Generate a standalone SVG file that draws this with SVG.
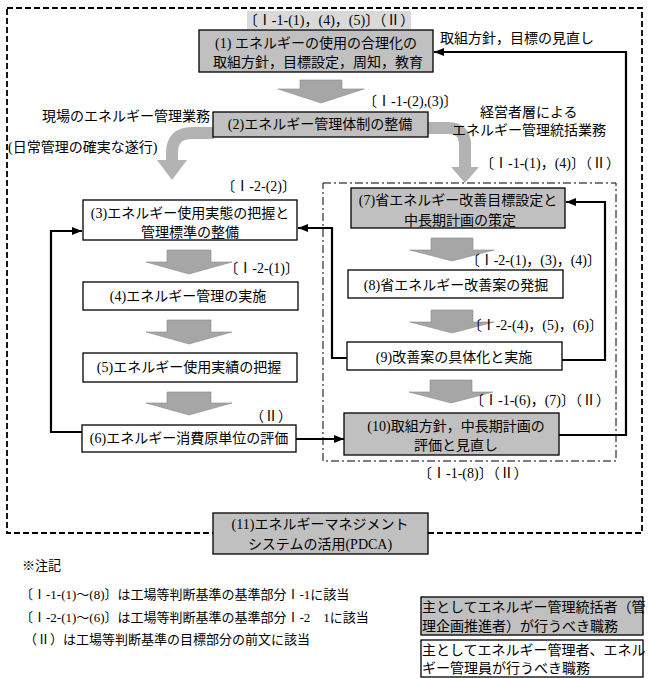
<svg xmlns="http://www.w3.org/2000/svg" width="648" height="678" viewBox="0 0 648 678">
<defs>
<style>
text{font-family:"Liberation Serif","Noto Sans CJK JP",serif;font-size:14px;fill:#000}
.s{font-size:13px}
.c{text-anchor:middle}
.e{text-anchor:end}
.gbox{fill:#c0c0c0;stroke:#000;stroke-width:1.3}
.wbox{fill:#fff;stroke:#000;stroke-width:1.3}
.big{fill:#a6a6a6;stroke:#8c8c8c;stroke-width:0.6}
.curve{fill:none;stroke:#b3b3b3;stroke-width:12}
.chead{fill:#b3b3b3}
.conn{fill:none;stroke:#000;stroke-width:2.2}
.outer{fill:none;stroke:#000;stroke-width:1.8;stroke-dasharray:6 3}
.inner{fill:none;stroke:#000;stroke-width:1;stroke-dasharray:8 3 2 3}
</style>
<marker id="ah" viewBox="0 0 10 10" refX="10" refY="5" markerWidth="10" markerHeight="10" markerUnits="userSpaceOnUse" orient="auto">
<path d="M0,1 L10,5 L0,9 z" fill="#000"/>
</marker>
</defs>
<rect width="648" height="678" fill="#fff"/>

<g id="frames">
<rect class="outer" x="7" y="8" width="635" height="525"/>
<rect class="inner" x="323" y="183" width="293" height="278"/>
</g>

<g id="big-arrows">
<polygon class="big" points="300,80 342,80 342,89 364,89 321,103 278,89 300,89"/>
<polygon class="big" points="167,250 211,250 211,262 232,262 189,274 146,262 167,262"/>
<polygon class="big" points="167,320 211,320 211,332 232,332 189,344 146,332 167,332"/>
<polygon class="big" points="167,392 211,392 211,403 232,403 189,415 146,403 167,403"/>
<polygon class="big" points="431,238 473,238 473,250 494,250 452,261 410,250 431,250"/>
<polygon class="big" points="431,310 473,310 473,322 494,322 452,333 410,322 431,322"/>
<polygon class="big" points="430,380 472,380 472,392 493,392 451,403 409,392 430,392"/>
<path class="curve" d="M214,133 H192 Q172,133 172,153 V162"/>
<polygon class="chead" points="157,160 187,160 172,180"/>
<path class="curve" d="M427,128 H448 Q465,128 465,145 V168"/>
<polygon class="chead" points="451,167 479,167 465,183"/>
</g>

<g id="connectors">
<path class="conn" d="M82,432 H51 V231 H82" marker-end="url(#ah)"/>
<path class="conn" d="M347,358 H332 V228 H298" marker-end="url(#ah)"/>
<path class="conn" d="M296,439 H344" marker-end="url(#ah)"/>
<path class="conn" d="M562,360 H605 V202 H566" marker-end="url(#ah)"/>
<path class="conn" d="M559,435 H626 V52 H434" marker-end="url(#ah)"/>
</g>

<g id="n1">
<rect x="247" y="11" width="164" height="18" fill="#d9d9d9"/>
<text class="c" x="329" y="25">〔Ⅰ-1-(1)，(4)，(5)〕（Ⅱ）</text>
<rect class="gbox" x="199" y="30" width="234" height="42"/>
<text class="c" x="316" y="48">(1) エネルギーの使用の合理化の</text>
<text class="c" x="318" y="67">取組方針，目標設定，周知，教育</text>
</g>
<g id="n2">
<rect class="gbox" x="213" y="112" width="215" height="25"/>
<text class="c" x="320" y="129">(2)エネルギー管理体制の整備</text>
</g>
<g id="n3">
<rect class="wbox" x="83" y="200" width="214" height="40"/>
<text class="c" x="190" y="218">(3)エネルギー使用実態の把握と</text>
<text class="c" x="190" y="237">管理標準の整備</text>
</g>
<g id="n4">
<rect class="wbox" x="83" y="282" width="215" height="28"/>
<text class="c" x="188" y="301">(4)エネルギー管理の実施</text>
</g>
<g id="n5">
<rect class="wbox" x="83" y="353" width="214" height="29"/>
<text class="c" x="189" y="372">(5)エネルギー使用実績の把握</text>
</g>
<g id="n6">
<rect class="wbox" x="82" y="425" width="214" height="27"/>
<text class="c" x="189" y="443">(6)エネルギー消費原単位の評価</text>
</g>
<g id="n7">
<rect class="gbox" x="351" y="188" width="214" height="40"/>
<text class="c" x="458" y="205">(7)省エネルギー改善目標設定と</text>
<text class="c" x="460" y="225">中長期計画の策定</text>
</g>
<g id="n8">
<rect class="wbox" x="348" y="270" width="215" height="28"/>
<text class="c" x="456" y="290">(8)省エネルギー改善案の発掘</text>
</g>
<g id="n9">
<rect class="wbox" x="347" y="342" width="215" height="28"/>
<text class="c" x="454" y="362">(9)改善案の具体化と実施</text>
</g>
<g id="n10">
<rect class="gbox" x="344" y="413" width="215" height="42"/>
<text class="c" x="456" y="431">(10)取組方針，中長期計画の</text>
<text class="c" x="456" y="450">評価と見直し</text>
</g>
<g id="n11">
<rect class="gbox" x="213" y="513" width="215" height="41"/>
<text class="c" x="320" y="529">(11)エネルギーマネジメント</text>
<text class="c" x="320" y="549">システムの活用(PDCA)</text>
</g>

<g id="labels">
<text x="440" y="43">取組方針，目標の見直し</text>
<text x="363" y="106">〔Ⅰ-1-(2),(3)〕</text>
<text x="42" y="121">現場のエネルギー管理業務</text>
<text x="8" y="152">(日常管理の確実な遂行)</text>
<text x="480" y="117">経営者層による</text>
<text x="452" y="135">エネルギー管理統括業務</text>
<text x="480" y="168">〔Ⅰ-1-(1)，(4)〕（Ⅱ）</text>
<text class="e" x="296" y="191">〔Ⅰ-2-(2)〕</text>
<text class="e" x="299" y="273">〔Ⅰ-2-(1)〕</text>
<text class="e" x="292" y="421">（Ⅱ）</text>
<text class="e" x="601" y="265">〔Ⅰ-2-(1)，(3)，(4)〕</text>
<text class="e" x="603" y="330">〔Ⅰ-2-(4)，(5)，(6)〕</text>
<text class="e" x="610" y="405">〔Ⅰ-1-(6)，(7)〕（Ⅱ）</text>
<text x="418" y="478">〔Ⅰ-1-(8)〕（Ⅱ）</text>
</g>

<g id="notes">
<text class="s" x="22" y="570">※注記</text>
<text class="s" x="20" y="599">〔Ⅰ-1-(1)～(8)〕は工場等判断基準の基準部分Ⅰ-1に該当</text>
<text class="s" x="20" y="622">〔Ⅰ-2-(1)～(6)〕は工場等判断基準の基準部分Ⅰ-2　1に該当</text>
<text class="s" x="24" y="644">（Ⅱ）は工場等判断基準の目標部分の前文に該当</text>
</g>

<g id="legend-gray">
<rect class="gbox" x="421" y="597" width="222" height="38"/>
<text x="422" y="612">主としてエネルギー管理統括者（管</text>
<text x="422" y="631">理企画推進者）が行うべき職務</text>
</g>
<g id="legend-white">
<rect class="wbox" x="421" y="640" width="222" height="37"/>
<text x="422" y="655">主としてエネルギー管理者、エネル</text>
<text x="422" y="673">ギー管理員が行うべき職務</text>
</g>
</svg>
